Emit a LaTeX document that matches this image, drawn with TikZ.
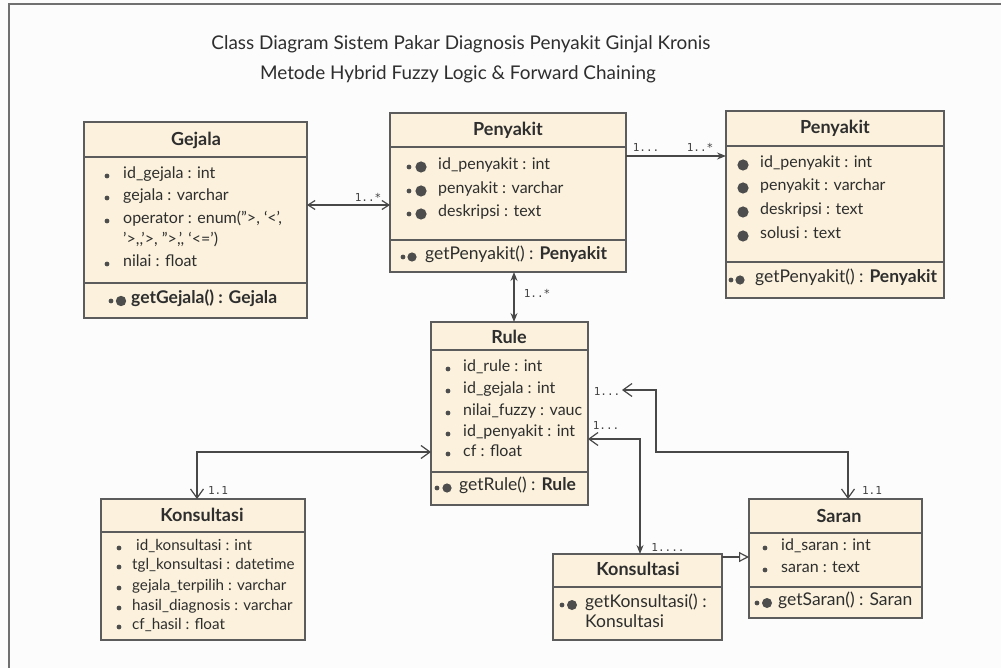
\documentclass[tikz,border=0pt]{standalone}
\usepackage{fontspec}
\setmainfont{Lato}
\newfontfamily\monofam{DejaVu Sans Mono}
\usetikzlibrary{arrows.meta}

\definecolor{pagebg}{HTML}{FDFCFC}
\definecolor{boxfill}{HTML}{FBF1DC}
\definecolor{boxline}{HTML}{5C5C5C}
\definecolor{ink}{HTML}{2E2E2E}
\definecolor{dotc}{HTML}{4D4D4D}
\definecolor{wirec}{HTML}{484848}
\definecolor{framec}{HTML}{707070}

% small list bullet and larger filled marker
\newcommand\smalldot[2]{\fill[dotc] (#1,#2) circle (2.4pt);}
\newcommand\bigdot[3]{\fill[dotc] (#1,#2) circle (#3pt);}

\tikzset{
  cls/.style={draw=boxline, fill=boxfill, line width=1.1pt, anchor=north west,
              inner sep=0pt, outer sep=0pt},
  divider/.style={draw=boxline, line width=1.1pt},
  clstitle/.style={font=\fontsize{18}{20}\selectfont\bfseries, text=ink, inner sep=0pt},
  attr/.style={anchor=west, font=\fontsize{16}{18}\selectfont, text=ink, inner sep=0pt,
               text height=0.7em, text depth=0.2em},
  narrowattr/.style={attr, font=\fontsize{15.2}{17}\selectfont},
  meth/.style={anchor=west, font=\fontsize{17.5}{19}\selectfont, text=ink, inner sep=0pt,
               text height=0.7em, text depth=0.2em},
  mult/.style={font=\monofam\fontsize{11}{12}\selectfont, text=ink!90, inner sep=0pt},
  wire/.style={draw=wirec, line width=1.2pt},
  heading/.style={font=\fontsize{18.9}{22}\selectfont, text=ink, inner sep=0pt},
  openv/.tip={Straight Barb[length=9pt, width=13pt, line width=1.2pt]},
  smallv/.tip={Straight Barb[length=7pt, width=9pt, line width=1.2pt]},
  solidv/.tip={Stealth[length=9pt, width=7pt, inset=3pt]},
  hollowtri/.tip={Triangle[open, length=10pt, width=10pt, line width=1.2pt]},
}

\begin{document}
\begin{tikzpicture}[x=1pt, y=-1pt]
\fill[pagebg] (0,0) rectangle (1001,668);
\useasboundingbox (0,0) rectangle (1001,668);
\draw[framec, line width=1.2pt] (9,668) -- (9,4) -- (1001,4);

% heading
\node[heading] (title1) at (461,44) {Class Diagram Sistem Pakar Diagnosis Penyakit Ginjal Kronis};
\node[heading] (title2) at (458,74) {Metode Hybrid Fuzzy Logic \& Forward Chaining};

% ---------- Gejala ----------
\node[cls, minimum width=223pt, minimum height=196pt] (gejala) at (84,122) {};
\draw[divider] (84,157) -- (307,157);
\draw[divider] (84,283) -- (307,283);
\node[clstitle] (gejala-t) at (196,140) {Gejala};
\smalldot{107}{176} \node[attr] (g1) at (123,176) {id\_gejala : int};
\smalldot{107}{198} \node[attr] (g2) at (123,198) {gejala : varchar};
\smalldot{107}{221} \node[attr] (g3) at (123,221) {operator : enum(”>, ‘<’,};
\node[attr] (g3b) at (123,242) {’>,{},’>, ”>,’, ‘<=’)};
\smalldot{107}{264} \node[attr] (g4) at (123,264) {nilai : float};
\smalldot{111}{301} \bigdot{121}{301}{5.2}
\node[meth, font=\fontsize{17.5}{19}\selectfont\bfseries] (gm) at (131,301) {getGejala() : Gejala};

% ---------- Penyakit (tengah) ----------
\node[cls, minimum width=236pt, minimum height=159pt] (penmid) at (390,113) {};
\draw[divider] (390,147) -- (626,147);
\draw[divider] (390,240) -- (626,240);
\node[clstitle] (penmid-t) at (508,130) {Penyakit};
\smalldot{409}{167} \bigdot{421}{167}{5.6} \node[attr] (p1) at (438,167) {id\_penyakit : int};
\smalldot{409}{191} \bigdot{421}{191}{5.6} \node[attr] (p2) at (438,191) {penyakit : varchar};
\smalldot{409}{214} \bigdot{421}{214}{5.6} \node[attr] (p3) at (438,214) {deskripsi : text};
\smalldot{403}{257} \bigdot{412}{257}{4.6}
\node[meth] (pm) at (425,257) {getPenyakit() : \textbf{Penyakit}};

% ---------- Penyakit (kanan) ----------
\node[cls, minimum width=218pt, minimum height=187pt] (penright) at (726,111) {};
\draw[divider] (726,146) -- (944,146);
\draw[divider] (726,262) -- (944,262);
\node[clstitle] (penright-t) at (835,128) {Penyakit};
\bigdot{743}{165}{5.6} \node[attr] (q1) at (760,165) {id\_penyakit : int};
\bigdot{743}{188}{5.6} \node[attr] (q2) at (760,188) {penyakit : varchar};
\bigdot{743}{212}{5.6} \node[attr] (q3) at (760,212) {deskripsi : text};
\bigdot{743}{236}{5.6} \node[attr] (q4) at (760,236) {solusi : text};
\smalldot{731}{280} \bigdot{740}{280}{4.6}
\node[meth] (qm) at (755,280) {getPenyakit() : \textbf{Penyakit}};

% ---------- Rule ----------
\node[cls, minimum width=157pt, minimum height=183pt] (rule) at (431,322) {};
\draw[divider] (431,350) -- (588,350);
\draw[divider] (431,472) -- (588,472);
\node[clstitle] (rule-t) at (509,337) {Rule};
\smalldot{448}{369} \node[attr] (r1) at (463,369) {id\_rule : int};
\smalldot{448}{391} \node[attr] (r2) at (463,391) {id\_gejala : int};
\smalldot{448}{413} \node[attr] (r3) at (463,413) {nilai\_fuzzy : vauc};
\smalldot{448}{434} \node[attr] (r4) at (463,434) {id\_penyakit : int};
\smalldot{448}{454} \node[attr] (r5) at (463,454) {cf : float};
\smalldot{437}{488} \bigdot{447}{488}{4.6}
\node[meth] (rm) at (459,488) {getRule() : \textbf{Rule}};

% ---------- Konsultasi (kiri) ----------
\node[cls, minimum width=204pt, minimum height=141pt] (konsl) at (101,499) {};
\draw[divider] (101,532) -- (305,532);
\node[clstitle] (konsl-t) at (202,515) {Konsultasi};
\smalldot{119}{548} \node[narrowattr] (k1) at (136,548) {id\_konsultasi : int};
\smalldot{119}{567} \node[narrowattr] (k2) at (132,567) {tgl\_konsultasi : datetime};
\smalldot{119}{588} \node[narrowattr] (k3) at (132,588) {gejala\_terpilih : varchar};
\smalldot{119}{608} \node[narrowattr] (k4) at (132,608) {hasil\_diagnosis : varchar};
\smalldot{119}{627} \node[narrowattr] (k5) at (132,627) {cf\_hasil : float};

% ---------- Konsultasi (tengah) ----------
\node[cls, minimum width=169pt, minimum height=86pt] (konsm) at (553,554) {};
\draw[divider] (553,587) -- (722,587);
\node[clstitle] (konsm-t) at (638,569) {Konsultasi};
\smalldot{562}{605} \bigdot{572}{605}{5}
\node[meth] (km) at (585,605) {getKonsultasi() :};
\node[meth] (km2) at (585,625) {Konsultasi};

% ---------- Saran ----------
\node[cls, minimum width=173pt, minimum height=119pt] (saran) at (749,499) {};
\draw[divider] (749,533) -- (922,533);
\draw[divider] (749,587) -- (922,587);
\node[clstitle] (saran-t) at (839,516) {Saran};
\smalldot{765}{548} \node[attr] (s1) at (781,548) {id\_saran : int};
\smalldot{765}{570} \node[attr] (s2) at (781,570) {saran : text};
\smalldot{757}{603} \bigdot{767}{603}{5}
\node[meth] (sm) at (778,603) {getSaran() : Saran};

% ---------- connector levels ----------
\coordinate (lvA) at (0,205);
\coordinate (lvB) at (0,156);
\coordinate (xC) at (514,0);
\coordinate (lvD) at (0,452);
\coordinate (xD) at (197,0);
\coordinate (e0) at (622,390);
\coordinate (e1) at (656,452);
\coordinate (xE) at (848,0);
\coordinate (lvF) at (0,439);
\coordinate (xF) at (640,0);
\coordinate (lvG) at (0,557);

% ---------- connectors ----------
\draw[wire, smallv-smallv] (gejala.east |- lvA) -- (penmid.west |- lvA);
\draw[wire, -solidv] (penmid.east |- lvB) -- (penright.west |- lvB);
\draw[wire, solidv-solidv] (penmid.south -| xC) -- (rule.north -| xC);
\draw[wire, openv-openv] (rule.west |- lvD) -| (konsl.north -| xD);
\draw[wire, openv-openv] (e0) -| (e1) -| (saran.north -| xE);
\draw[wire, openv-solidv] (rule.east |- lvF) -| (konsm.north -| xF);
\draw[wire, -hollowtri] (konsm.east |- lvG) -- (saran.west |- lvG);

% ---------- multiplicities ----------
\node[mult] (mA) at (368,197) {1..*};
\node[mult] (mB1) at (646,147) {1...};
\node[mult] (mB2) at (700,147) {1..*};
\node[mult] (mC) at (537,293) {1..*};
\node[mult] (mD) at (218,490) {1.1};
\node[mult] (mE1) at (607,391) {1...};
\node[mult] (mE2) at (872,490) {1.1};
\node[mult] (mF1) at (606,425) {1...};
\node[mult] (mF2) at (668,547) {1....};
\end{tikzpicture}
\end{document}
